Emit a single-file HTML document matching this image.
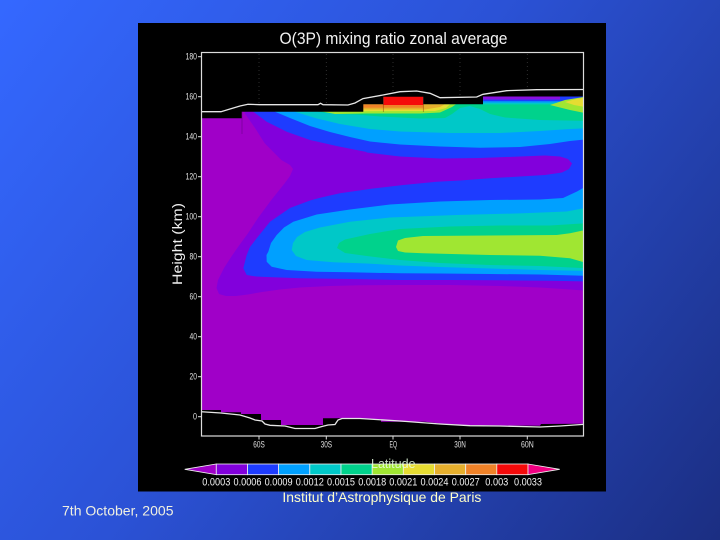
<!DOCTYPE html>
<html>
<head>
<meta charset="utf-8">
<style>
html,body{margin:0;padding:0;width:720px;height:540px;overflow:hidden;}
svg{display:block;}
text{font-family:"Liberation Sans",sans-serif;}
</style>
</head>
<body>
<svg width="720" height="540" viewBox="0 0 720 540" xmlns="http://www.w3.org/2000/svg">
<defs>
<linearGradient id="bg" x1="0" y1="0" x2="720" y2="540" gradientUnits="userSpaceOnUse">
<stop offset="0" stop-color="#3468ff"/>
<stop offset="0.45" stop-color="#2b52d6"/>
<stop offset="1" stop-color="#1b2e82"/>
</linearGradient>
<clipPath id="plot"><rect x="201.5" y="52.5" width="382" height="383"/></clipPath>
</defs>
<rect x="0" y="0" width="720" height="540" fill="url(#bg)"/>
<rect x="138" y="23" width="468" height="468.5" fill="#000"/>

<!-- Title -->
<text x="279.5" y="44" font-size="17" fill="#f2f2f2" textLength="228" lengthAdjust="spacingAndGlyphs">O(3P) mixing ratio zonal average</text>

<g clip-path="url(#plot)">
<!-- C0 base -->
<rect x="195" y="95" width="400" height="340" fill="#a000c8"/>
<!-- C1 -->
<path fill="#8200dc" d="M243,95 L244.7,113.3 L255,128 L264.7,143.3 L281.3,160 L290,165 L293,169 L290,176 L284.7,183.3 L271.3,200 L258,218 L248,233.3 L238,247 L231.3,256.7 L224,268 L218,280 L216.5,288 L219,294 L226,296 L236,296 L248,294.5 L262,292 L280,289.5 L300,287.5 L330,286 L360,285.3 L400,285 L450,285 L500,286 L540,287.5 L570,289.5 L590,291 L590,95 Z"/>
<!-- C2 -->
<path fill="#1e3cff" d="M250,95 L253.3,111.7 L266.7,121.7 L286.7,131.7 L310,140 L340,146.7 L366.7,152 L330,195 L310,200.5 L290,208 L270,221.7 L256.7,238.3 L250,247 L246.7,255 L243.3,268.3 L246.7,275 L256,276.5 L266.7,277 L300,278.3 L350,279 L400,280 L450,280 L500,280.3 L550,280.7 L590,281.5 L590,95 Z"/>
<!-- tongue C1 -->
<path fill="#8200dc" d="M340,146.7 L366.7,152.5 L400,156.5 L440,158.5 L480,158 L520,156.5 L545,155.5 L560,156.5 L568,159 L572,163.5 L569,169 L562,172.5 L545,175 L520,176.5 L490,178.3 L460,180.5 L436.7,181.7 L403.3,185 L373,188.5 L340,193.3 L310,200 L300,203.5 L300,160 Z"/>
<!-- upper C3 -->
<path fill="#00a0ff" d="M272,95 L275,111.7 L290,118 L310,126 L330,132 L350,137 L370,141.5 L400,144.5 L440,146.5 L480,147.8 L520,147 L550,144 L570,141 L590,139 L590,95 Z"/>
<!-- upper C4 -->
<path fill="#00c8c8" d="M292,95 L295,111.7 L315,118 L340,124 L370,129 L400,131.5 L450,133 L500,133 L540,131 L570,129 L590,128 L590,95 Z"/>
<!-- upper C5 -->
<path fill="#00d28c" d="M316,95 L318,111.7 L335,114 L355,114.5 L380,116.5 L420,118.5 L445,118 L452,114 L460,108 L470,106 L480,109 L490,114 L505,117.5 L540,120 L590,121 L590,95 Z"/>
<!-- top strip right -->
<rect x="483" y="96" width="80" height="3.8" fill="#8a10e0"/>
<rect x="483" y="99.6" width="101" height="1.8" fill="#1e3cff"/>
<rect x="483" y="101.3" width="101" height="1.6" fill="#00a0ff"/>
<rect x="483" y="102.8" width="101" height="1.6" fill="#00c8c8"/>
<rect x="560" y="96" width="25" height="3.8" fill="#1e3cff"/>
<!-- right wedge -->
<path fill="#a0e632" d="M550,105 L565,100 L590,96 L590,114 L570,110 Z"/>
<path fill="#e6dc32" d="M565,102 L576,99 L590,97 L590,108 L574,105 Z"/>
<!-- top left yellow-green + orange blocks -->
<path fill="#a0e632" d="M322,111.5 L335,114 L352,113.8 L365,113.5 L420,113.5 L440,112.5 L452,107 L456,104.3 L363,104.3 L363,110 L350,111.2 Z"/>
<path fill="#e6dc32" d="M363,104.3 L450,104.3 L446,108 L435,111 L363,111.2 Z"/>
<path fill="#e6af2d" d="M363,104.3 L445,104.3 L440,107 L425,109.5 L363,109.5 Z"/>
<rect x="363" y="104.3" width="60.3" height="3.4" fill="#f08228"/>
<rect x="383.3" y="96.5" width="40" height="8.5" fill="#f50a0a"/>
<line x1="383.3" y1="104" x2="383.3" y2="112" stroke="#803000" stroke-width="0.7" opacity="0.6"/>
<line x1="423.3" y1="104" x2="423.3" y2="112" stroke="#803000" stroke-width="0.7" opacity="0.6"/>
<!-- lower C3 -->
<path fill="#00a0ff" d="M266.7,261.7 L266.5,255 L268.3,251.7 L271,243 L276.7,235 L284,227.5 L293.3,221.7 L316.7,214.5 L350,209.5 L390,204.5 L440,201.5 L490,200 L540,199.5 L563,198 L577,191.5 L590,184 L590,276 L540,274.5 L490,274 L440,273.5 L400,273.3 L350,272.3 L316.7,271.7 L286.7,270 L271.7,266.7 Z"/>
<!-- lower C4 -->
<path fill="#00c8c8" d="M291.7,250 L293,243 L297,237 L305,232 L320,227.5 L350,221.7 L390,217.5 L456.7,215 L523.3,213.3 L566.7,211.5 L590,207 L590,271 L540,270 L490,268.5 L440,267 L400,265.5 L366.7,263.5 L333.3,262.3 L306.7,260 L296,256 Z"/>
<!-- lower C5 -->
<path fill="#00d28c" d="M337,248 L339,243 L345,239.5 L370,234 L400,229 L450,226.5 L500,225.5 L550,225.5 L590,223 L590,268.5 L540,266 L490,265 L440,263 L400,260 L366.7,256 L345,253 Z"/>
<!-- lower C6 -->
<path fill="#a0e632" d="M396,247 L398,240.5 L405,238 L423,236 L490,235.5 L556.7,235 L570,233.3 L590,229 L590,264 L570,258.3 L540,255.7 L490,255 L423,253.3 L405,252.5 L398,251 Z"/>
<line x1="242" y1="112" x2="242" y2="134" stroke="#7a009a" stroke-width="0.8"/>

<!-- top black mask -->
<path fill="#000" d="M195,50 L590,50 L590,96.5 L483,96.5 L483,104.3 L423.3,104.3 L423.3,96.7 L383.3,96.7 L383.3,104.3 L363.3,104.3 L363.3,111.7 L241.7,111.7 L241.7,118.3 L195,118.3 Z"/>
<!-- bottom black mask -->
<path fill="#000" d="M195,440 L195,410 L221,410 L221,412.3 L241,412.3 L241,414 L261,414 L261,420 L281,420 L281,425 L323,425 L323,418.3 L338,418.3 L345,418 L381,419.5 L381,421.7 L425,421.7 L440,423.5 L470,425.3 L540,425.7 L541,424 L590,423.7 L590,440 Z"/>
<!-- faint grid dots -->
<g stroke="#3a3a3a" stroke-width="0.8" stroke-dasharray="1,3">
<line x1="259" y1="54" x2="259" y2="104"/>
<line x1="326.3" y1="54" x2="326.3" y2="104"/>
<line x1="393" y1="54" x2="393" y2="92"/>
<line x1="460" y1="54" x2="460" y2="96"/>
<line x1="527.3" y1="54" x2="527.3" y2="90"/>
</g>
<!-- white boundary lines -->
<polyline fill="none" stroke="#e6e6e6" stroke-width="1.3" points="201,111.7 221,111.7 230,109 240,106 248,104.3 260,104.7 318,104.7 320.5,103.3 323,104.7 348,105 355,103 363,98.6 383,95 400,91.7 416.7,91 430,93.3 440,97.7 476.7,97 483,94.3 506.7,90.7 536.7,89.7 585,89.5"/>
<polyline fill="none" stroke="#e6e6e6" stroke-width="1.3" points="201,411.7 221,413 240,415 250,418 255,420 262,421 265,424 270,425.3 285,426 295,428.5 315,428.5 322,426.5 328,425 335,424.5 338,420 342,418.5 360,418.5 400,421 440,424 470,425.7 500,426 540,427 560,426 585,424.3"/>
</g>

<!-- frame -->
<rect x="201.5" y="52.5" width="382" height="383.5" fill="none" stroke="#dcdcdc" stroke-width="1.2"/>
<!-- y ticks -->
<g stroke="#dcdcdc" stroke-width="1">
<line x1="198" y1="56.7" x2="201.5" y2="56.7"/>
<line x1="198" y1="96.7" x2="201.5" y2="96.7"/>
<line x1="198" y1="136.7" x2="201.5" y2="136.7"/>
<line x1="198" y1="176.7" x2="201.5" y2="176.7"/>
<line x1="198" y1="216.7" x2="201.5" y2="216.7"/>
<line x1="198" y1="256.7" x2="201.5" y2="256.7"/>
<line x1="198" y1="296.7" x2="201.5" y2="296.7"/>
<line x1="198" y1="336.7" x2="201.5" y2="336.7"/>
<line x1="198" y1="376.7" x2="201.5" y2="376.7"/>
<line x1="198" y1="416.7" x2="201.5" y2="416.7"/>
<line x1="259" y1="436" x2="259" y2="439.5"/>
<line x1="326.3" y1="436" x2="326.3" y2="439.5"/>
<line x1="393" y1="436" x2="393" y2="439.5"/>
<line x1="460" y1="436" x2="460" y2="439.5"/>
<line x1="527.3" y1="436" x2="527.3" y2="439.5"/>
</g>
<g font-size="9" fill="#e0e0e0" text-anchor="end">
<text x="197" y="59.7" textLength="11.5" lengthAdjust="spacingAndGlyphs">180</text>
<text x="197" y="99.7" textLength="11.5" lengthAdjust="spacingAndGlyphs">160</text>
<text x="197" y="139.7" textLength="11.5" lengthAdjust="spacingAndGlyphs">140</text>
<text x="197" y="179.7" textLength="11.5" lengthAdjust="spacingAndGlyphs">120</text>
<text x="197" y="219.7" textLength="11.5" lengthAdjust="spacingAndGlyphs">100</text>
<text x="197" y="259.7" textLength="7.5" lengthAdjust="spacingAndGlyphs">80</text>
<text x="197" y="299.7" textLength="7.5" lengthAdjust="spacingAndGlyphs">60</text>
<text x="197" y="339.7" textLength="7.5" lengthAdjust="spacingAndGlyphs">40</text>
<text x="197" y="379.7" textLength="7.5" lengthAdjust="spacingAndGlyphs">20</text>
<text x="197" y="419.7" textLength="4" lengthAdjust="spacingAndGlyphs">0</text>
</g>
<g font-size="9" fill="#e0e0e0">
<text x="253.3" y="447.5" textLength="11.5" lengthAdjust="spacingAndGlyphs">60S</text>
<text x="320.6" y="447.5" textLength="11.5" lengthAdjust="spacingAndGlyphs">30S</text>
<text x="389.5" y="447.5" textLength="7.5" lengthAdjust="spacingAndGlyphs">EQ</text>
<text x="454.2" y="447.5" textLength="11.7" lengthAdjust="spacingAndGlyphs">30N</text>
<text x="521" y="447.5" textLength="12.7" lengthAdjust="spacingAndGlyphs">60N</text>
</g>
<!-- y axis title -->
<text transform="translate(182,285) rotate(-90)" font-size="13.5" fill="#eeeeee" textLength="82" lengthAdjust="spacingAndGlyphs">Height (km)</text>

<!-- colorbar -->
<g stroke="#f0f0f0" stroke-width="0.8">
<polygon points="184.7,469.3 216.3,464 216.3,474.7" fill="#a000c8"/>
<rect x="216.3" y="464" width="31.2" height="10.7" fill="#8200dc"/>
<rect x="247.5" y="464" width="31.2" height="10.7" fill="#1e3cff"/>
<rect x="278.6" y="464" width="31.2" height="10.7" fill="#00a0ff"/>
<rect x="309.8" y="464" width="31.2" height="10.7" fill="#00c8c8"/>
<rect x="341.0" y="464" width="31.2" height="10.7" fill="#00d28c"/>
<rect x="372.2" y="464" width="31.2" height="10.7" fill="#a0e632"/>
<rect x="403.3" y="464" width="31.2" height="10.7" fill="#e6dc32"/>
<rect x="434.5" y="464" width="31.2" height="10.7" fill="#e6af2d"/>
<rect x="465.7" y="464" width="31.2" height="10.7" fill="#f08228"/>
<rect x="496.8" y="464" width="31.2" height="10.7" fill="#f50a0a"/>
<polygon points="528,464 559.7,469.3 528,474.7" fill="#f00082"/>
</g>
<text x="371" y="468" font-size="13" fill="#e8ffe0" opacity="0.85" textLength="44.5" lengthAdjust="spacingAndGlyphs">Latitude</text>
<g font-size="11" fill="#f2f2f2" text-anchor="middle">
<text x="216.3" y="485.5" textLength="28" lengthAdjust="spacingAndGlyphs">0.0003</text>
<text x="247.5" y="485.5" textLength="28" lengthAdjust="spacingAndGlyphs">0.0006</text>
<text x="278.6" y="485.5" textLength="28" lengthAdjust="spacingAndGlyphs">0.0009</text>
<text x="309.8" y="485.5" textLength="28" lengthAdjust="spacingAndGlyphs">0.0012</text>
<text x="341.0" y="485.5" textLength="28" lengthAdjust="spacingAndGlyphs">0.0015</text>
<text x="372.2" y="485.5" textLength="28" lengthAdjust="spacingAndGlyphs">0.0018</text>
<text x="403.3" y="485.5" textLength="28" lengthAdjust="spacingAndGlyphs">0.0021</text>
<text x="434.5" y="485.5" textLength="28" lengthAdjust="spacingAndGlyphs">0.0024</text>
<text x="465.7" y="485.5" textLength="28" lengthAdjust="spacingAndGlyphs">0.0027</text>
<text x="496.8" y="485.5" textLength="23" lengthAdjust="spacingAndGlyphs">0.003</text>
<text x="528.0" y="485.5" textLength="28" lengthAdjust="spacingAndGlyphs">0.0033</text>
</g>

<!-- footer text -->
<text x="282.4" y="502" font-size="14" fill="#ffffc8" textLength="199" lengthAdjust="spacingAndGlyphs">Institut d’Astrophysique de Paris</text>
<text x="62" y="515.5" font-size="14" fill="#f0f0e0" textLength="111.5" lengthAdjust="spacingAndGlyphs">7th October, 2005</text>
</svg>
</body>
</html>
